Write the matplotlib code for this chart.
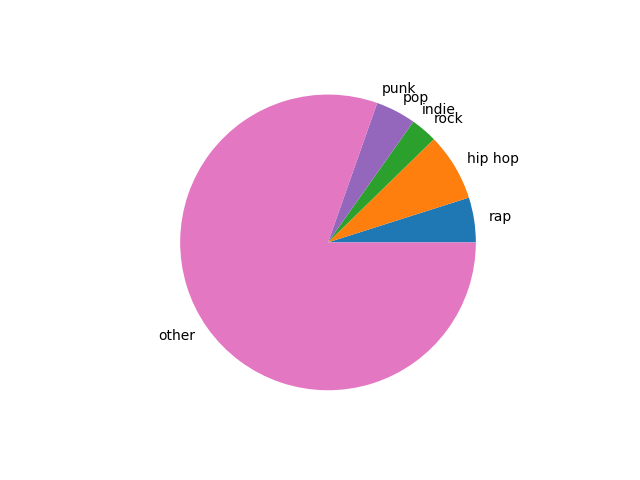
import matplotlib
matplotlib.use("Agg")
import matplotlib.pyplot as plt

genres = ["rap", "hip hop", "rock", "indie", "pop", "punk", "other"]
shares = [4.9, 7.4, 2.9, 0.0, 4.4, 0.0, 80.4]

fig, ax = plt.subplots(figsize=(6.4, 4.8), dpi=100)
ax.pie(shares, labels=genres)
fig.savefig("out.png")
